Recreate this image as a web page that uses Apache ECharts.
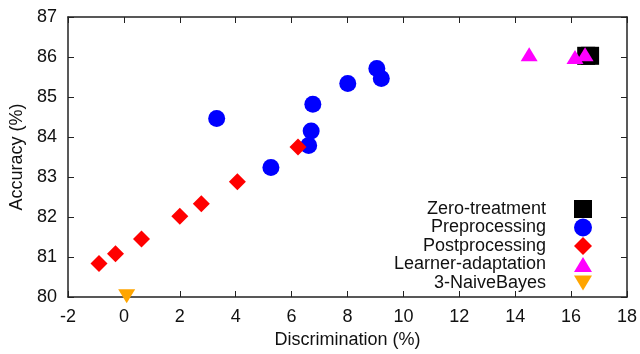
<!DOCTYPE html>
<html>
<head>
<meta charset="utf-8">
<script src="https://cdn.jsdelivr.net/npm/echarts@6/dist/echarts.min.js"></script>
<style>
html,body{margin:0;padding:0;background:#fff;}
#c{width:640px;height:354px;}
</style>
</head>
<body>
<div id="c"></div>
<script>
const seriesNames = ['Zero-treatment', 'Preprocessing', 'Postprocessing', 'Learner-adaptation', '3-NaiveBayes'];
const zeroTreatment = [[16.54, 86.03], [16.68, 86.03]];
const preprocessing = [[3.32, 84.46], [5.26, 83.24], [6.61, 83.79], [6.70, 84.15], [6.76, 84.82], [8.01, 85.34], [9.05, 85.71], [9.21, 85.46]];
const postprocessing = [[-0.89, 80.84], [-0.30, 81.08], [0.63, 81.45], [2.00, 82.02], [2.77, 82.33], [4.06, 82.88], [6.23, 83.75]];
const learnerAdaptation = [[14.50, 86.07], [16.14, 86.0], [16.50, 86.07]];
const naiveBayes = [[0.10, 80.02]];
const xTicks = {min: -2, max: 18, interval: 2};
const yTicks = {min: 80, max: 87, interval: 1};

const FONT = 'Liberation Sans';
const axisColor = '#222';
const chart = echarts.init(document.getElementById('c'), null, {renderer: 'canvas'});

function axisCommon(show) {
  return {
    axisLine: {show: true, onZero: false, lineStyle: {color: axisColor, width: 1.5}},
    axisTick: {show: true, inside: true, length: 6, lineStyle: {color: axisColor, width: 1}},
    splitLine: {show: false},
    axisLabel: {show: show, color: '#111', fontFamily: FONT, fontSize: 18},
  };
}

const upTri = 'path://M8.5,0L17,14L0,14Z';
const downTri = 'path://M0,0L17,0L8.5,14Z';

chart.setOption({
  animation: false,
  backgroundColor: '#fff',
  grid: {left: 68, right: 12, top: 17, bottom: 57, containLabel: false},
  xAxis: [
    Object.assign(axisCommon(true), {
      type: 'value', position: 'bottom', min: xTicks.min, max: xTicks.max, interval: xTicks.interval,
      name: 'Discrimination (%)', nameLocation: 'middle', nameGap: 33,
      nameTextStyle: {fontFamily: FONT, fontSize: 18, color: '#111'},
      axisLabel: {show: true, color: '#111', fontFamily: FONT, fontSize: 18, margin: 11}
    }),
    Object.assign(axisCommon(false), {
      type: 'value', position: 'top', min: xTicks.min, max: xTicks.max, interval: xTicks.interval
    })
  ],
  yAxis: [
    Object.assign(axisCommon(true), {
      type: 'value', position: 'left', min: yTicks.min, max: yTicks.max, interval: yTicks.interval,
      name: 'Accuracy (%)', nameLocation: 'middle', nameGap: 38, nameRotate: 90,
      nameTextStyle: {fontFamily: FONT, fontSize: 18, color: '#111'},
      axisLabel: {show: true, color: '#111', fontFamily: FONT, fontSize: 18, margin: 11}
    }),
    Object.assign(axisCommon(false), {
      type: 'value', position: 'right', min: yTicks.min, max: yTicks.max, interval: yTicks.interval
    })
  ],
  legend: {
    orient: 'vertical', right: 48, top: 200, padding: 0, align: 'right',
    itemWidth: 18, itemHeight: 18, itemGap: 0.5,
    textStyle: {fontFamily: FONT, fontSize: 18, color: '#111', padding: [0, 23, 0, 0]},
    data: [
      {name: seriesNames[0]},
      {name: seriesNames[1]},
      {name: seriesNames[2]},
      {name: seriesNames[3], icon: upTri},
      {name: seriesNames[4], icon: downTri}
    ]
  },
  series: [
    {name: seriesNames[0], type: 'scatter', data: zeroTreatment, symbol: 'rect', symbolSize: 18, itemStyle: {color: '#000', opacity: 1}},
    {name: seriesNames[1], type: 'scatter', data: preprocessing, symbol: 'circle', symbolSize: 17, itemStyle: {color: '#0000ff', opacity: 1}},
    {name: seriesNames[2], type: 'scatter', data: postprocessing, symbol: 'diamond', symbolSize: 17, itemStyle: {color: '#ff0000', opacity: 1}},
    {name: seriesNames[3], type: 'scatter', data: learnerAdaptation, symbol: 'triangle', symbolSize: [17, 14], itemStyle: {color: '#ff00ff', opacity: 1}},
    {name: seriesNames[4], type: 'scatter', data: naiveBayes, symbol: 'triangle', symbolRotate: 180, symbolSize: [17, 14], clip: false, itemStyle: {color: '#ffa500', opacity: 1}}
  ]
});
</script>
</body>
</html>
